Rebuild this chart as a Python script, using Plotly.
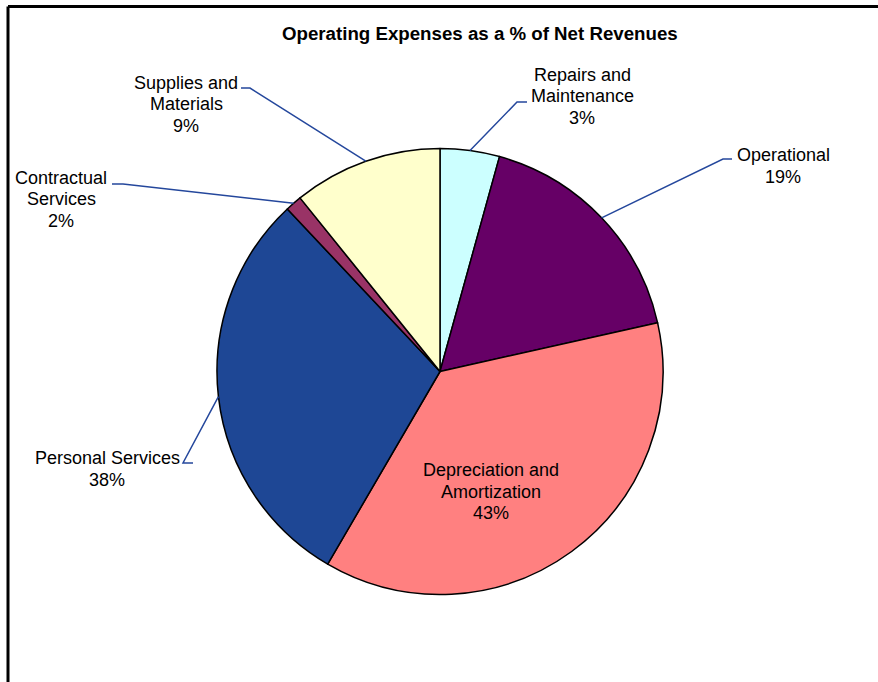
import math
import plotly.graph_objects as go

# ---- data ----
categories = ["Repairs and Maintenance", "Operational", "Depreciation and Amortization",
              "Personal Services", "Contractual Services", "Supplies and Materials"]
label_lines = [["Repairs and", "Maintenance"], ["Operational"], ["Depreciation and", "Amortization"],
               ["Personal Services"], ["Contractual", "Services"], ["Supplies and", "Materials"]]
pct_labels = ["3%", "19%", "43%", "38%", "2%", "9%"]
slice_values = [4.3, 17.2, 36.9, 29.6, 1.2, 10.8]   # slice sizes
colors = ["#CCFFFF", "#660066", "#FF8080", "#1E4795", "#993366", "#FFFFCC"]

W, H = 878, 682
CX, CY, R = 440.0, 371.5, 223.0
FONT = "Liberation Sans, Arial, sans-serif"
LINE_H = 21.5

def px(x):
    return x / W

def py(y):
    return 1 - y / H

fig = go.Figure()
fig.add_trace(go.Pie(
    labels=categories,
    values=slice_values,
    sort=False,
    direction="clockwise",
    rotation=0,
    marker=dict(colors=colors, line=dict(color="black", width=1.5)),
    textinfo="none",
    hoverinfo="label+percent",
    domain=dict(x=[px(CX - R), px(CX + R)], y=[py(CY + R), py(CY - R)]),
    showlegend=False,
))

# label placement (layout): x centre, y of first line, elbow start, elbow end
layout_pos = {
    "Repairs and Maintenance": dict(text=(582, 75), elbow=[(527, 102), (517, 102)]),
    "Operational": dict(text=(783, 155), elbow=[(732, 159), (723, 159)]),
    "Depreciation and Amortization": dict(text=(491, 470), elbow=None),
    "Personal Services": dict(text=(107, 458), elbow=[(193, 463), (183, 463)]),
    "Contractual Services": dict(text=(61, 178), elbow=[(112, 184), (123, 184)]),
    "Supplies and Materials": dict(text=(186, 83), elbow=[(241, 88), (250, 88)]),
}

total = sum(slice_values)
cum = 0.0
shapes = []
annotations = []
for cat, lines, pct, v in zip(categories, label_lines, pct_labels, slice_values):
    mid = (cum + v / 2) / total * 2 * math.pi
    cum += v
    ex = CX + R * math.sin(mid)
    ey = CY - R * math.cos(mid)
    pos = layout_pos[cat]
    tx, ty = pos["text"]
    for i, line in enumerate(lines + [pct]):
        annotations.append(dict(
            x=px(tx), y=py(ty + i * LINE_H), xref="paper", yref="paper",
            text=line, showarrow=False, align="center",
            xanchor="center", yanchor="middle",
            font=dict(family=FONT, size=18, color="black"),
        ))
    if pos["elbow"]:
        (x0, y0), (x1, y1) = pos["elbow"]
        path = f"M {px(x0)} {py(y0)} L {px(x1)} {py(y1)} L {px(ex)} {py(ey)}"
        shapes.append(dict(type="path", xref="paper", yref="paper", path=path,
                           line=dict(color="#24479C", width=1.5)))

# title
annotations.append(dict(
    x=px(480), y=py(34), xref="paper", yref="paper",
    text="<b>Operating Expenses as a % of Net Revenues</b>", showarrow=False,
    xanchor="center", yanchor="middle",
    font=dict(family=FONT, size=18.7, color="black"),
))

# chart frame
shapes.append(dict(type="line", xref="paper", yref="paper",
                   x0=px(8), y0=py(6.5), x1=1.0, y1=py(6.5), line=dict(color="black", width=3)))
shapes.append(dict(type="line", xref="paper", yref="paper",
                   x0=px(8), y0=py(6.5), x1=px(8), y1=0.0, line=dict(color="black", width=3)))

fig.update_layout(
    width=W, height=H,
    margin=dict(l=0, r=0, t=0, b=0),
    paper_bgcolor="white", plot_bgcolor="white",
    shapes=shapes, annotations=annotations,
)

fig.write_html("out.html")
